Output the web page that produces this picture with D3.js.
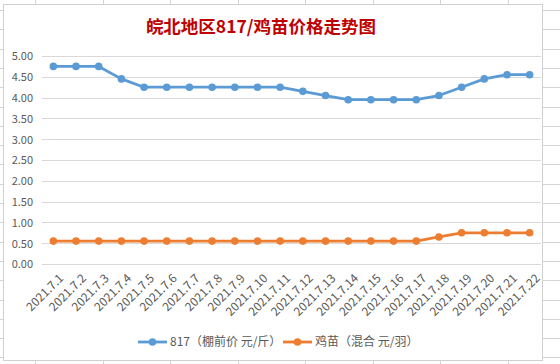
<!DOCTYPE html>
<html><head><meta charset="utf-8">
<script src="https://cdn.jsdelivr.net/npm/d3@7"></script>
<style>html,body{margin:0;padding:0;background:#fff;}svg{display:block;}</style>
</head><body>
<script>
const categories = ["2021.7.1","2021.7.2","2021.7.3","2021.7.4","2021.7.5","2021.7.6","2021.7.7","2021.7.8","2021.7.9","2021.7.10","2021.7.11","2021.7.12","2021.7.13","2021.7.14","2021.7.15","2021.7.16","2021.7.17","2021.7.18","2021.7.19","2021.7.20","2021.7.21","2021.7.22"];
const broiler817 = [4.75,4.75,4.75,4.45,4.25,4.25,4.25,4.25,4.25,4.25,4.25,4.15,4.05,3.95,3.95,3.95,3.95,4.05,4.25,4.45,4.55,4.55];
const chicks = [0.55,0.55,0.55,0.55,0.55,0.55,0.55,0.55,0.55,0.55,0.55,0.55,0.55,0.55,0.55,0.55,0.55,0.65,0.75,0.75,0.75,0.75];
const yTicks = [0,0.5,1,1.5,2,2.5,3,3.5,4,4.5,5];
const seriesNames = ["817（棚前价 元/斤）","鸡苗（混合 元/羽）"];
const title = "皖北地区817/鸡苗价格走势图";

const W = 560, H = 364;
const svg = d3.select("body").append("svg").attr("width", W).attr("height", H);
const font = "'Microsoft YaHei','Noto Sans CJK SC','Noto Sans',sans-serif";

// spreadsheet background grid
const bg = svg.append("g").attr("stroke", "#d4d4d4").attr("stroke-width", 1);
d3.range(10, H, 19.3).forEach(y => {
  bg.append("line").attr("x1", 0).attr("x2", W).attr("y1", Math.round(y)+0.5).attr("y2", Math.round(y)+0.5);
});
d3.range(35, W, 67.5).forEach(x => {
  bg.append("line").attr("x1", Math.round(x)+0.5).attr("x2", Math.round(x)+0.5).attr("y1", 0).attr("y2", H);
});

// chart box
svg.append("rect").attr("x", 3.5).attr("y", 4.5).attr("width", 539).attr("height", 356)
  .attr("fill", "#fff").attr("stroke", "#d0d0d0");

const x = d3.scaleBand().domain(categories).range([42, 541]);
const y = d3.scaleLinear().domain([0, 5]).range([264, 56]);

// gridlines
svg.append("g").selectAll("line").data(yTicks).join("line")
  .attr("x1", 42).attr("x2", 541)
  .attr("y1", d => Math.round(y(d)) + 0.5).attr("y2", d => Math.round(y(d)) + 0.5)
  .attr("stroke", "#d9d9d9");

// y axis labels
const yAxis = d3.axisLeft(y).tickValues(yTicks).tickFormat(d3.format(".2f")).tickSize(0).tickPadding(0);
const yg = svg.append("g").attr("transform", "translate(33,0)").call(yAxis);
yg.select(".domain").remove();
yg.selectAll("text").attr("font-family", font).attr("font-size", 11).attr("fill", "#595959").attr("dy", "0.35em");

// x axis labels
const xAxis = d3.axisBottom(x).tickSize(0).tickPadding(0);
const xg = svg.append("g").attr("transform", "translate(0,273)").call(xAxis);
xg.select(".domain").remove();
xg.selectAll("text")
  .attr("font-family", font).attr("font-size", 12).attr("fill", "#595959")
  .attr("text-anchor", "end").attr("dy", "0.7em")
  .attr("transform", "translate(5,0) rotate(-45)");

const cx = d => x(d) + x.bandwidth() / 2;
const line = d3.line().x((d, i) => cx(categories[i])).y(d => y(d));
const colors = ["#5b9bd5", "#ed7d31"];
[broiler817, chicks].forEach((s, k) => {
  svg.append("path").datum(s).attr("d", line).attr("fill", "none")
    .attr("stroke", colors[k]).attr("stroke-width", 2.8).attr("stroke-linejoin", "round");
  svg.append("g").selectAll("circle").data(s).join("circle")
    .attr("cx", (d, i) => cx(categories[i])).attr("cy", d => y(d)).attr("r", 3.8)
    .attr("fill", colors[k]);
});

// title
svg.append("text").attr("x", 261).attr("y", 33).attr("text-anchor", "middle")
  .attr("font-family", "'Noto Sans CJK SC',sans-serif").attr("font-weight", "bold")
  .attr("font-size", 17.5).attr("fill", "#c00000").text(title);

// legend
const legendX = [138, 283];
seriesNames.forEach((n, k) => {
  const g = svg.append("g").attr("transform", `translate(${legendX[k]},342)`);
  g.append("line").attr("x1", 0).attr("x2", 29).attr("stroke", colors[k]).attr("stroke-width", 2.8);
  g.append("circle").attr("cx", 14.5).attr("r", 3.8).attr("fill", colors[k]);
  g.append("text").attr("x", 32).attr("dy", "0.35em").attr("font-family", font)
    .attr("font-size", 12).attr("fill", "#595959").text(n);
});
</script>
</body></html>
